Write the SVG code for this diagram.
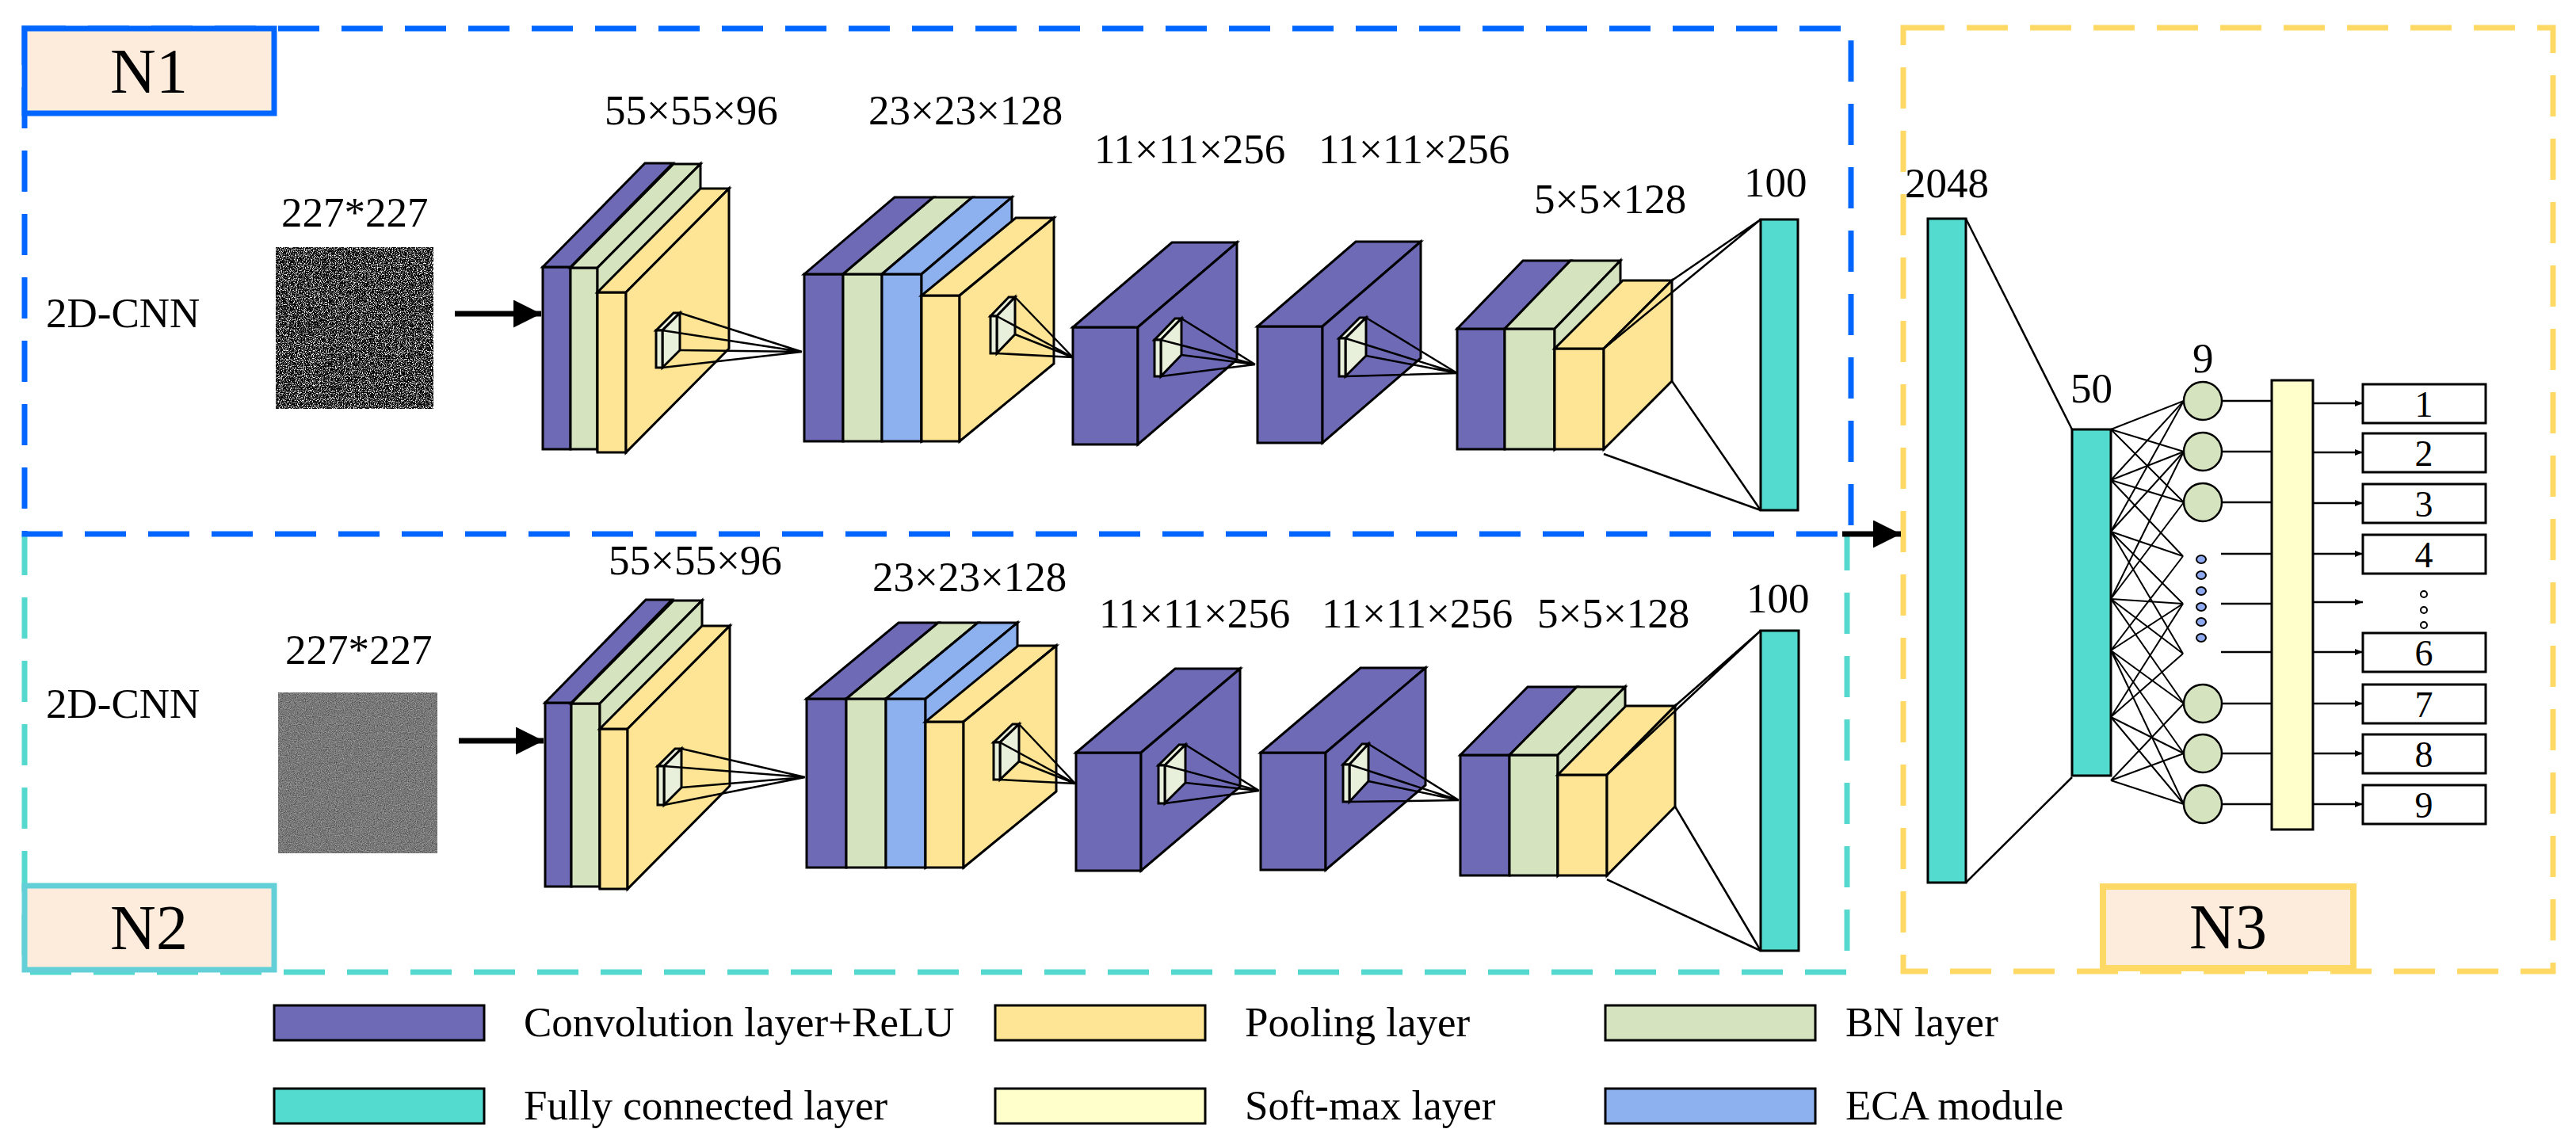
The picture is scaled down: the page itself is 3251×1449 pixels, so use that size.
<svg xmlns="http://www.w3.org/2000/svg" width="3251" height="1449" viewBox="0 0 3251 1449">
<style>
text{font-family:"Liberation Serif","Times New Roman",serif;fill:#000}
.lb{font-size:53px}
.big{font-size:80px;text-anchor:middle}
.lg{font-size:53px}
.ed{stroke:#000;stroke-width:3;stroke-linejoin:miter}
.p{fill:#6e6ab6}.g{fill:#d5e3bf}.b{fill:#8db1ee}.y{fill:#fee596}.t{fill:#54dbcf}.s{fill:#ffffcc}
.k{fill:#e8f0dc;stroke:#000;stroke-width:3}
.ln{stroke:#000;stroke-width:2.5;fill:none}
.dash{fill:none;stroke-width:7;stroke-dasharray:52 28}
</style>
<defs>
<filter id="nz1" x="0" y="0" width="1" height="1" color-interpolation-filters="sRGB"><feTurbulence type="fractalNoise" baseFrequency="0.9" numOctaves="2" seed="3"/><feColorMatrix type="matrix" values="5 0 0 0 -2.4  5 0 0 0 -2.4  5 0 0 0 -2.4  0 0 0 0 1"/></filter>
<filter id="nz2" x="0" y="0" width="1" height="1" color-interpolation-filters="sRGB"><feTurbulence type="fractalNoise" baseFrequency="0.9" numOctaves="2" seed="5"/><feColorMatrix type="matrix" values="0.6 0 0 0 0.17  0.6 0 0 0 0.17  0.6 0 0 0 0.17  0 0 0 0 1"/></filter>
<marker id="ah" viewBox="0 0 10 10" refX="10" refY="5" markerWidth="10" markerHeight="10" markerUnits="userSpaceOnUse" orient="auto"><path d="M0,1 L10,5 L0,9 z" fill="#000"/></marker>
<marker id="ahb" viewBox="0 0 10 10" refX="10" refY="5" markerWidth="5" markerHeight="5" orient="auto"><path d="M0,0 L10,5 L0,10 z" fill="#000"/></marker>
</defs>
<rect width="3251" height="1449" fill="#fff"/>

<g id="frame-n2"><path class="dash" stroke="#55d9cf" d="M31,674 V1227 H2331 V674"/>
<rect x="31" y="1118" width="315" height="106" fill="#fdebdc" stroke="#63cfd7" stroke-width="7"/><text class="big" x="188" y="1198">N2</text></g>
<g id="frame-n1"><rect class="dash" stroke="#0066ff" x="31" y="36" width="2305" height="638"/>
<rect x="31" y="36" width="315" height="107" fill="#fdebdc" stroke="#0066ff" stroke-width="7"/><text class="big" x="188" y="117">N1</text></g>
<g id="frame-n3"><rect class="dash" stroke="#ffd966" x="2402" y="35" width="820" height="1191"/>
<rect x="2654" y="1119" width="316" height="103" fill="#fdebdc" stroke="#ffd966" stroke-width="8"/><text class="big" x="2812" y="1197">N3</text></g>

<g id="n1-input"><text class="lb" x="58" y="413">2D-CNN</text><text class="lb" x="355" y="286">227*227</text>
<rect x="348" y="312" width="199" height="204" filter="url(#nz1)"/></g>
<g id="n1-b1" class="ed">
<rect class="p" x="685" y="337" width="35" height="230"/><polygon class="p" points="685,337 720,337 849,206 814,206"/>
<rect class="g" x="720" y="338" width="34" height="229"/><polygon class="g" points="720,338 754,338 884,207 850,207"/><polygon class="g" points="754,338 884,207 884,436 754,567"/>
<rect class="y" x="754" y="369" width="36" height="202"/><polygon class="y" points="754,369 790,369 920,238 884,238"/><polygon class="y" points="790,369 920,238 920,440 790,571"/>
</g>
<g id="n1-b2" class="ed">
<rect class="p" x="1015" y="346" width="49" height="211"/><polygon class="p" points="1015,346 1064,346 1178,249 1129,249"/>
<rect class="g" x="1064" y="346" width="49" height="211"/><polygon class="g" points="1064,346 1113,346 1227,249 1178,249"/>
<rect class="b" x="1113" y="346" width="50" height="211"/><polygon class="b" points="1113,346 1163,346 1277,249 1227,249"/><polygon class="b" points="1163,346 1277,249 1277,460 1163,557"/>
<rect class="y" x="1163" y="373" width="48" height="184"/><polygon class="y" points="1163,373 1211,373 1330,275 1282,275"/><polygon class="y" points="1211,373 1330,275 1330,459 1211,557"/>
</g>
<g id="n1-b3" class="ed"><rect class="p" x="1354" y="413" width="82" height="148"/><polygon class="p" points="1354,413 1436,413 1561,306 1479,306"/><polygon class="p" points="1436,413 1561,306 1561,454 1436,561"/></g>
<g id="n1-b4" class="ed"><rect class="p" x="1587" y="412" width="82" height="147"/><polygon class="p" points="1587,412 1669,412 1793,305 1711,305"/><polygon class="p" points="1669,412 1793,305 1793,452 1669,559"/></g>
<g id="n1-b5" class="ed">
<rect class="p" x="1839" y="415" width="60" height="152"/><polygon class="p" points="1839,415 1899,415 1982,329 1922,329"/>
<rect class="g" x="1899" y="415" width="63" height="152"/><polygon class="g" points="1899,415 1962,415 2045,329 1982,329"/><polygon class="g" points="1962,415 2045,329 2045,481 1962,567"/>
<rect class="y" x="1962" y="440" width="62" height="127"/><polygon class="y" points="1962,440 2024,440 2110,354 2048,354"/><polygon class="y" points="2024,440 2110,354 2110,481 2024,567"/>
</g>
<g id="n1-fc"><rect class="t ed" x="2222" y="277" width="47" height="367"/></g>
<g id="n1-labels"><text class="lb" x="763" y="157">55×55×96</text><text class="lb" x="1096" y="157">23×23×128</text><text class="lb" x="1381" y="206">11×11×256</text><text class="lb" x="1664" y="206">11×11×256</text><text class="lb" x="1936" y="269">5×5×128</text><text class="lb" x="2201" y="248">100</text></g>

<g id="n2-input"><text class="lb" x="58" y="906">2D-CNN</text><text class="lb" x="360" y="838">227*227</text>
<rect x="351" y="874" width="201" height="203" filter="url(#nz2)"/></g>
<g id="n2-b1" class="ed">
<rect class="p" x="688" y="887" width="33" height="232"/><polygon class="p" points="688,887 721,887 848,757 815,757"/>
<rect class="g" x="721" y="888" width="36" height="231"/><polygon class="g" points="721,888 757,888 886,758 850,758"/><polygon class="g" points="757,888 886,758 886,989 757,1119"/>
<rect class="y" x="757" y="920" width="35" height="202"/><polygon class="y" points="757,920 792,920 921,790 886,790"/><polygon class="y" points="792,920 921,790 921,992 792,1122"/>
</g>
<g id="n2-b2" class="ed">
<rect class="p" x="1018" y="882" width="50" height="213"/><polygon class="p" points="1018,882 1068,882 1184,786 1134,786"/>
<rect class="g" x="1068" y="882" width="50" height="213"/><polygon class="g" points="1068,882 1118,882 1234,786 1184,786"/>
<rect class="b" x="1118" y="882" width="50" height="213"/><polygon class="b" points="1118,882 1168,882 1284,786 1234,786"/><polygon class="b" points="1168,882 1284,786 1284,999 1168,1095"/>
<rect class="y" x="1168" y="911" width="48" height="184"/><polygon class="y" points="1168,911 1216,911 1333,815 1285,815"/><polygon class="y" points="1216,911 1333,815 1333,999 1216,1095"/>
</g>
<g id="n2-b3" class="ed"><rect class="p" x="1358" y="950" width="82" height="149"/><polygon class="p" points="1358,950 1440,950 1565,844 1483,844"/><polygon class="p" points="1440,950 1565,844 1565,993 1440,1099"/></g>
<g id="n2-b4" class="ed"><rect class="p" x="1591" y="950" width="82" height="148"/><polygon class="p" points="1591,950 1673,950 1799,843 1717,843"/><polygon class="p" points="1673,950 1799,843 1799,991 1673,1098"/></g>
<g id="n2-b5" class="ed">
<rect class="p" x="1843" y="953" width="62" height="152"/><polygon class="p" points="1843,953 1905,953 1990,867 1928,867"/>
<rect class="g" x="1905" y="953" width="61" height="152"/><polygon class="g" points="1905,953 1966,953 2051,867 1990,867"/><polygon class="g" points="1966,953 2051,867 2051,1019 1966,1105"/>
<rect class="y" x="1966" y="978" width="62" height="127"/><polygon class="y" points="1966,978 2028,978 2114,891 2052,891"/><polygon class="y" points="2028,978 2114,891 2114,1018 2028,1105"/>
</g>
<g id="n2-fc"><rect class="t ed" x="2222" y="796" width="48" height="404"/></g>
<g id="n2-labels"><text class="lb" x="768" y="725">55×55×96</text><text class="lb" x="1101" y="746">23×23×128</text><text class="lb" x="1387" y="792">11×11×256</text><text class="lb" x="1668" y="792">11×11×256</text><text class="lb" x="1940" y="792">5×5×128</text><text class="lb" x="2204" y="773">100</text></g>

<g id="kernels">
<g><polygon class="k" points="828,417 836,417 858,395 850,395"/><polygon class="k" points="836,417 858,395 858,442 836,464"/><rect class="k" x="828" y="417" width="8" height="47"/></g>
<g><polygon class="k" points="1250,399 1258,399 1281,375 1273,375"/><polygon class="k" points="1258,399 1281,375 1281,422 1258,446"/><rect class="k" x="1250" y="399" width="8" height="47"/></g>
<g><polygon class="k" points="1457,429 1465,429 1491,402 1483,402"/><polygon class="k" points="1465,429 1491,402 1491,448 1465,475"/><rect class="k" x="1457" y="429" width="8" height="46"/></g>
<g><polygon class="k" points="1690,427 1698,427 1724,401 1716,401"/><polygon class="k" points="1698,427 1724,401 1724,449 1698,475"/><rect class="k" x="1690" y="427" width="8" height="48"/></g>
<g><polygon class="k" points="830,967 838,967 860,945 852,945"/><polygon class="k" points="838,967 860,945 860,994 838,1016"/><rect class="k" x="830" y="967" width="8" height="49"/></g>
<g><polygon class="k" points="1254,937 1262,937 1286,914 1278,914"/><polygon class="k" points="1262,937 1286,914 1286,961 1262,984"/><rect class="k" x="1254" y="937" width="8" height="47"/></g>
<g><polygon class="k" points="1462,966 1470,966 1496,940 1488,940"/><polygon class="k" points="1470,966 1496,940 1496,988 1470,1014"/><rect class="k" x="1462" y="966" width="8" height="48"/></g>
<g><polygon class="k" points="1695,965 1703,965 1727,939 1719,939"/><polygon class="k" points="1703,965 1727,939 1727,986 1703,1012"/><rect class="k" x="1695" y="965" width="8" height="47"/></g>
</g>

<g id="n3-fc2048"><rect class="t ed" x="2433" y="276" width="48" height="838"/><text class="lb" x="2404" y="249">2048</text></g>
<g id="n3-fc50"><rect class="t ed" x="2615" y="542" width="49" height="437"/><text class="lb" x="2613" y="508">50</text></g>
<g id="n3-neurons" stroke="#000" stroke-width="2.5"><text class="lb" x="2767" y="470" stroke="none">9</text>
<circle class="g" cx="2780" cy="506" r="24"/><circle class="g" cx="2780" cy="570" r="24"/><circle class="g" cx="2780" cy="634" r="24"/>
<circle class="g" cx="2780" cy="888" r="24"/><circle class="g" cx="2780" cy="951" r="24"/><circle class="g" cx="2780" cy="1015" r="24"/>
<g fill="#8faaf0" stroke-width="2"><ellipse cx="2778" cy="706" rx="6" ry="5"/><ellipse cx="2778" cy="726" rx="6" ry="5"/><ellipse cx="2778" cy="746" rx="6" ry="5"/><ellipse cx="2778" cy="766" rx="6" ry="5"/><ellipse cx="2778" cy="785" rx="6" ry="5"/><ellipse cx="2778" cy="805" rx="6" ry="5"/></g></g>
<g id="n3-softmax"><rect class="s ed" x="2867" y="480" width="52" height="567"/></g>
<g id="n3-outputs">
<g stroke="#000" stroke-width="3" fill="#fff">
<rect x="2982" y="485" width="155" height="49"/><rect x="2982" y="547" width="155" height="49"/><rect x="2982" y="611" width="155" height="49"/><rect x="2982" y="675" width="155" height="49"/>
<rect x="2982" y="799" width="155" height="49"/><rect x="2982" y="864" width="155" height="49"/><rect x="2982" y="927" width="155" height="49"/><rect x="2982" y="991" width="155" height="49"/></g>
<g text-anchor="middle" font-size="46"><text x="3059" y="526">1</text><text x="3059" y="588">2</text><text x="3059" y="652">3</text><text x="3059" y="716">4</text><text x="3059" y="840">6</text><text x="3059" y="905">7</text><text x="3059" y="968">8</text><text x="3059" y="1032">9</text></g>
<g fill="none" stroke="#000" stroke-width="2"><circle cx="3059" cy="750" r="4"/><circle cx="3059" cy="770" r="4"/><circle cx="3059" cy="789" r="4"/></g>
</g>

<g id="connectors" class="ln">
<path d="M574,396 H683" stroke-width="7" marker-end="url(#ahb)"/>
<path d="M579,935 H686" stroke-width="7" marker-end="url(#ahb)"/>
<path d="M2325,674 H2399" stroke-width="7" marker-end="url(#ahb)"/>
<path d="M836,417 L1012,444 M858,395 L1012,444 M858,442 L1012,444 M836,464 L1012,444"/>
<path d="M1258,399 L1354,451 M1281,375 L1354,451 M1281,422 L1354,451 M1258,446 L1354,451"/>
<path d="M1465,429 L1584,460 M1491,402 L1584,460 M1491,448 L1584,460 M1465,475 L1584,460"/>
<path d="M1698,427 L1839,471 M1724,401 L1839,471 M1724,449 L1839,471 M1698,475 L1839,471"/>
<path d="M2024,440 L2222,277 M2110,354 L2222,277 M2110,481 L2222,644 M2024,573 L2222,644"/>
<path d="M838,967 L1016,981 M860,945 L1016,981 M860,994 L1016,981 M838,1016 L1016,981"/>
<path d="M1262,937 L1357,989 M1286,914 L1357,989 M1286,961 L1357,989 M1262,984 L1357,989"/>
<path d="M1470,966 L1589,998 M1496,940 L1589,998 M1496,988 L1589,998 M1470,1014 L1589,998"/>
<path d="M1703,965 L1841,1010 M1727,939 L1841,1010 M1727,986 L1841,1010 M1703,1012 L1841,1010"/>
<path d="M2028,978 L2222,796 M2114,891 L2222,796 M2114,1018 L2222,1200 M2028,1110 L2222,1200"/>
<path d="M2481,276 L2615,542 M2481,1114 L2615,981"/>
<g stroke-width="2">
<path d="M2664,542 L2756,506 M2664,542 L2756,570 M2664,542 L2756,634"/>
<path d="M2664,606 L2756,506 M2664,606 L2756,570 M2664,606 L2756,634 M2664,606 L2755,702"/>
<path d="M2664,671 L2756,506 M2664,671 L2756,570 M2664,671 L2755,702 M2664,671 L2755,762 M2664,671 L2755,825"/>
<path d="M2664,756 L2756,570 M2664,756 L2756,634 M2664,756 L2755,762 M2664,756 L2755,825 M2664,756 L2756,888"/>
<path d="M2664,821 L2755,702 M2664,821 L2755,762 M2664,821 L2756,888 M2664,821 L2756,951 M2664,821 L2756,1015"/>
<path d="M2664,905 L2755,762 M2664,905 L2755,825 M2664,905 L2756,951 M2664,905 L2756,1015"/>
<path d="M2664,985 L2756,888 M2664,985 L2756,951 M2664,985 L2756,1015"/>
</g>
<path d="M2804,506 H2867 M2804,570 H2867 M2804,634 H2867 M2803,699 H2867 M2803,762 H2867 M2803,823 H2867 M2804,888 H2867 M2804,951 H2867 M2804,1015 H2867"/>
<g marker-end="url(#ah)"><path d="M2919,509 H2982"/><path d="M2919,571 H2982"/><path d="M2919,635 H2982"/><path d="M2919,699 H2982"/><path d="M2919,760 H2982"/><path d="M2919,823 H2982"/><path d="M2919,888 H2982"/><path d="M2919,951 H2982"/><path d="M2919,1015 H2982"/></g>
</g>

<g id="legend">
<g stroke="#000" stroke-width="3"><rect class="p" x="346" y="1269" width="265" height="44"/><rect class="y" x="1256" y="1269" width="265" height="44"/><rect class="g" x="2026" y="1269" width="265" height="44"/>
<rect class="t" x="346" y="1374" width="265" height="44"/><rect class="s" x="1256" y="1374" width="265" height="44"/><rect class="b" x="2026" y="1374" width="265" height="44"/></g>
<text class="lg" x="661" y="1308">Convolution layer+ReLU</text><text class="lg" x="1571" y="1308">Pooling layer</text><text class="lg" x="2329" y="1308">BN layer</text>
<text class="lg" x="661" y="1413">Fully connected layer</text><text class="lg" x="1571" y="1413">Soft-max layer</text><text class="lg" x="2329" y="1413">ECA module</text>
</g>
</svg>
